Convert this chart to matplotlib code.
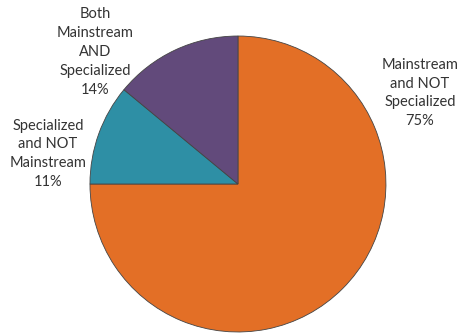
import matplotlib
matplotlib.use('Agg')
from matplotlib import pyplot as plt

# slice data, clockwise from 12 o'clock
labels = ['Mainstream\nand NOT\nSpecialized', 'Specialized\nand NOT\nMainstream', 'Both\nMainstream\nAND\nSpecialized']
shares = [75, 11, 14]
colors = ['#E36F26', '#2E8FA5', '#624A7B']

# label centres in pie units (radius = 1)
label_pos = [(1.23, 0.615), (-1.284, 0.203), (-0.966, 0.892)]

plt.rcParams['font.family'] = ['Lato', 'DejaVu Sans']

fig = plt.figure(figsize=(4.62, 3.35), dpi=100)
ax = fig.add_axes([0, 0, 1, 1])
ax.pie(shares, colors=colors, startangle=90, counterclock=False,
       wedgeprops=dict(edgecolor='#444444', linewidth=0.6))

for lab, val, (x, y) in zip(labels, shares, label_pos):
    ax.text(x, y, '%s\n%d%%' % (lab, val), ha='center', va='center',
            fontsize=10.5, color='#333333', linespacing=1.45)

ax.set_xlim(-1.608, 1.514)
ax.set_ylim(-1.020, 1.243)
ax.set_aspect('equal')
ax.axis('off')
fig.savefig('out.png', dpi=100)
